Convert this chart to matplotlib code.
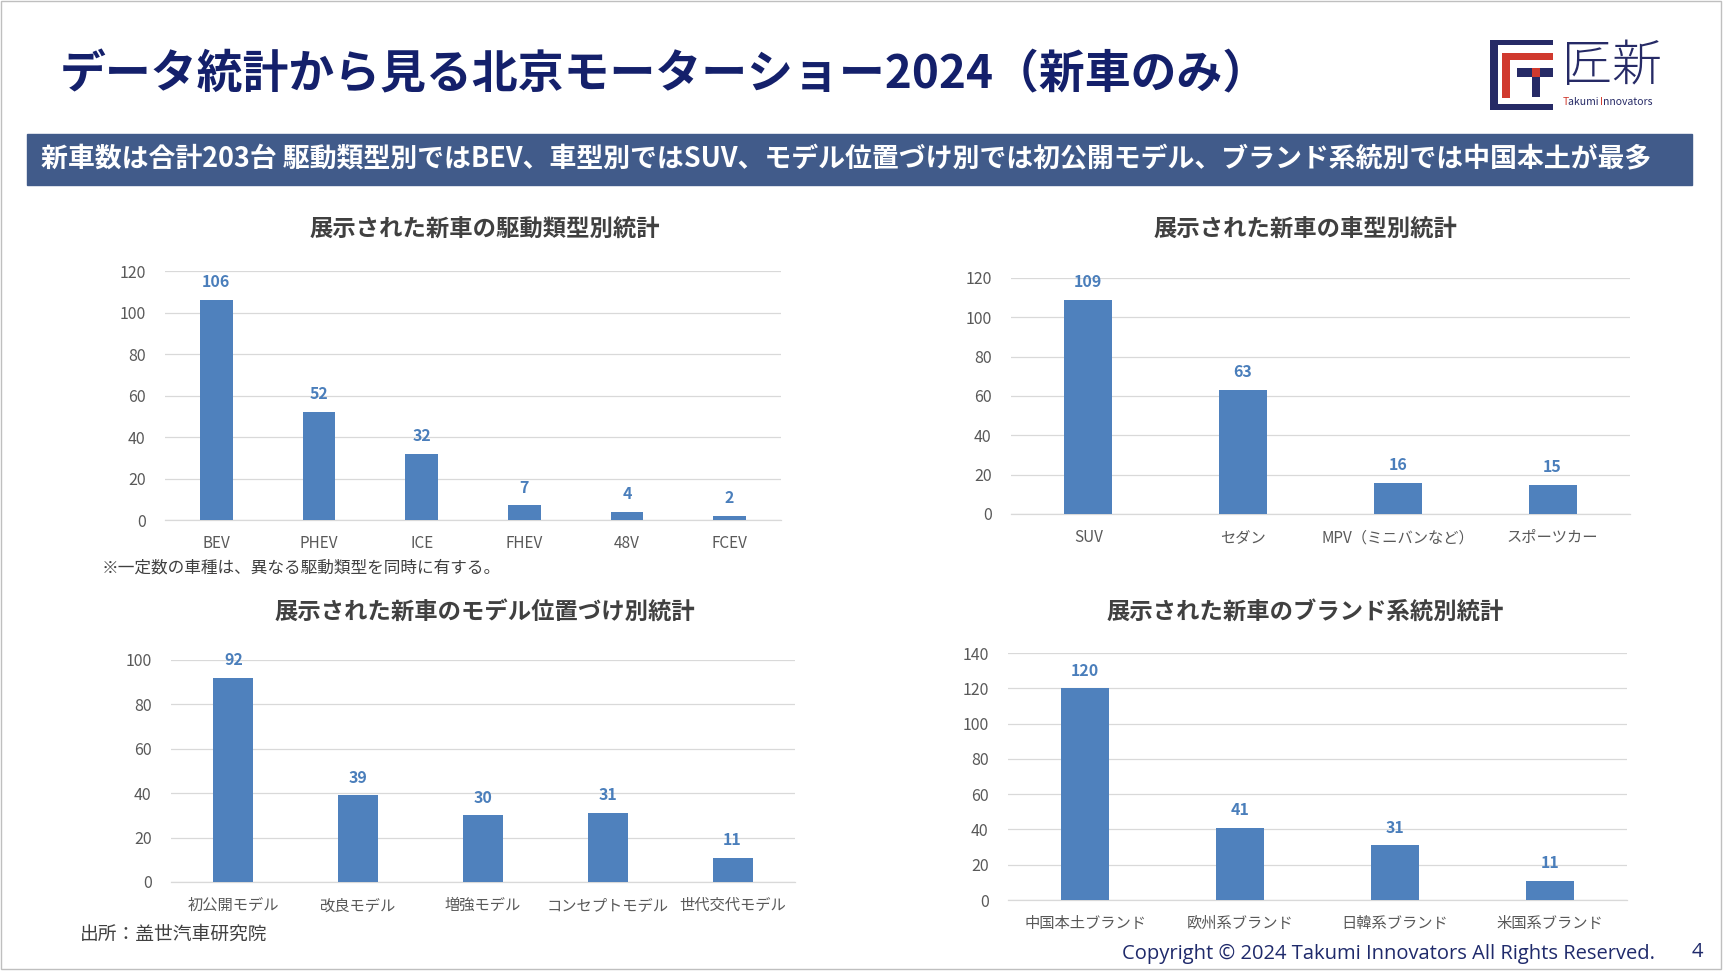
import matplotlib

matplotlib.use("Agg")
import matplotlib.pyplot as plt
from matplotlib.patches import Rectangle

plt.rcParams["font.family"] = ["Noto Sans CJK JP", "DejaVu Sans"]

W, H = 1723, 971

TITLE = "データ統計から見る北京モーターショー2024（新車のみ）"
BANNER = ("新車数は合計203台 駆動類型別ではBEV、車型別ではSUV、モデル位置づけ別では"
          "初公開モデル、ブランド系統別では中国本土が最多")

drive_labels = ["BEV", "PHEV", "ICE", "FHEV", "48V", "FCEV"]
drive_counts = [106, 52, 32, 7, 4, 2]

body_labels = ["SUV", "セダン", "MPV（ミニバンなど）", "スポーツカー"]
body_counts = [109, 63, 16, 15]

model_labels = ["初公開モデル", "改良モデル", "増強モデル", "コンセプトモデル", "世代交代モデル"]
model_counts = [92, 39, 30, 31, 11]

brand_labels = ["中国本土ブランド", "欧州系ブランド", "日韓系ブランド", "米国系ブランド"]
brand_counts = [120, 41, 31, 11]

BAR = "#4F81BD"
NAVY = "#14206B"
GRID = "#D9D9D9"
TXT = "#595959"


def px_axes(fig, left, right, top, bottom):
    return fig.add_axes([left / W, 1 - bottom / H, (right - left) / W, (bottom - top) / H])


def bar_chart(ax, labels, values, ymax, step, width):
    x = range(len(labels))
    ax.bar(x, values, width=width, color=BAR, zorder=3)
    for i, v in zip(x, values):
        ax.annotate(str(v), (i, v), xytext=(0, 7), textcoords="offset points",
                    ha="center", va="bottom", fontsize=11.5, fontweight="bold", color="#4A7EBB")
    ax.set_xlim(-0.5, len(labels) - 0.5)
    ax.set_ylim(0, ymax)
    ax.set_yticks(range(0, ymax + 1, step))
    ax.set_xticks(list(x))
    ax.set_xticklabels(labels)
    ax.tick_params(axis="both", length=0, labelsize=11.5, colors=TXT)
    ax.tick_params(axis="x", pad=11, labelsize=11)
    ax.tick_params(axis="y", pad=14)
    ax.grid(axis="y", color=GRID, lw=0.9, zorder=0)
    for s in ["top", "right", "left"]:
        ax.spines[s].set_visible(False)
    ax.spines["bottom"].set_color(GRID)
    ax.spines["bottom"].set_linewidth(0.9)
    ax.set_facecolor("none")


fig = plt.figure(figsize=(W / 100, H / 100), dpi=100)

ax1 = px_axes(fig, 165, 781, 271, 520)
bar_chart(ax1, drive_labels, drive_counts, 120, 20, 0.32)
ax2 = px_axes(fig, 1011, 1630, 278, 514)
bar_chart(ax2, body_labels, body_counts, 120, 20, 0.31)
ax3 = px_axes(fig, 171, 795, 660, 882)
bar_chart(ax3, model_labels, model_counts, 100, 20, 0.32)
ax4 = px_axes(fig, 1008, 1627, 653, 900)
bar_chart(ax4, brand_labels, brand_counts, 140, 20, 0.31)

# overlay in pixel coordinates for slide decoration
ov = fig.add_axes([0, 0, 1, 1], zorder=-1)
ov.set_xlim(0, W)
ov.set_ylim(H, 0)
ov.axis("off")

ov.add_patch(Rectangle((1, 1), W - 3, H - 3, fill=False, ec="#BFBFBF", lw=1))
ov.text(60, 75, TITLE, fontsize=33, fontweight="bold", color=NAVY, va="center", ha="left")
ov.add_patch(Rectangle((27, 134), 1665, 51, color="#415B8A"))
ov.text(41, 159, BANNER, fontsize=19.4, fontweight="bold", color="white", va="center", ha="left")

chart_titles = [
    (485, 230, "展示された新車の駆動類型別統計"),
    (1305, 230, "展示された新車の車型別統計"),
    (485, 612, "展示された新車のモデル位置づけ別統計"),
    (1305, 612, "展示された新車のブランド系統別統計"),
]
for x, y, t in chart_titles:
    ov.text(x, y, t, fontsize=16.8, fontweight="bold", color="#404040", ha="center", va="center")

ov.text(102, 568, "※一定数の車種は、異なる駆動類型を同時に有する。", fontsize=12, color="#404040",
        va="center", ha="left")
ov.text(80, 934, "出所：盖世汽車研究院", fontsize=13.5, color="#404040", va="center", ha="left")
ov.text(1655, 954, "Copyright © 2024 Takumi Innovators All Rights Reserved.", fontsize=14.5,
        color="#1F2A6B", ha="right", va="center", family=["Open Sans", "DejaVu Sans"])
ov.text(1697, 952, "4", fontsize=14.5, color="#1F2A6B", ha="center", va="center",
        family=["Open Sans", "DejaVu Sans"])

# logo
LN = "#262A66"
LR = "#D0392E"
for x0, y0, x1, y1, c in [
    (1490, 40, 1553, 45, LN), (1490, 40, 1498, 110, LN), (1490, 104, 1553, 110, LN),
    (1502, 53, 1553, 60, LR), (1502, 53, 1510, 98, LR),
    (1517, 68, 1553, 77, LN), (1532, 68, 1540, 77, LR), (1532, 77, 1540, 97, LN),
]:
    ov.add_patch(Rectangle((x0, y0), x1 - x0, y1 - y0, color=c, lw=0))
ov.text(1612, 67, "匠新", fontsize=36, color=LN, ha="center", va="center", fontweight="light")
ov.text(1563, 102, "T", fontsize=7.5, color=LR, ha="left", va="center")
ov.text(1568, 102, "akumi ", fontsize=7.5, color=LN, ha="left", va="center")
ov.text(1600, 102, "I", fontsize=7.5, color=LR, ha="left", va="center")
ov.text(1603, 102, "nnovators", fontsize=7.5, color=LN, ha="left", va="center")

fig.savefig("out.png", dpi=100, facecolor="white")
